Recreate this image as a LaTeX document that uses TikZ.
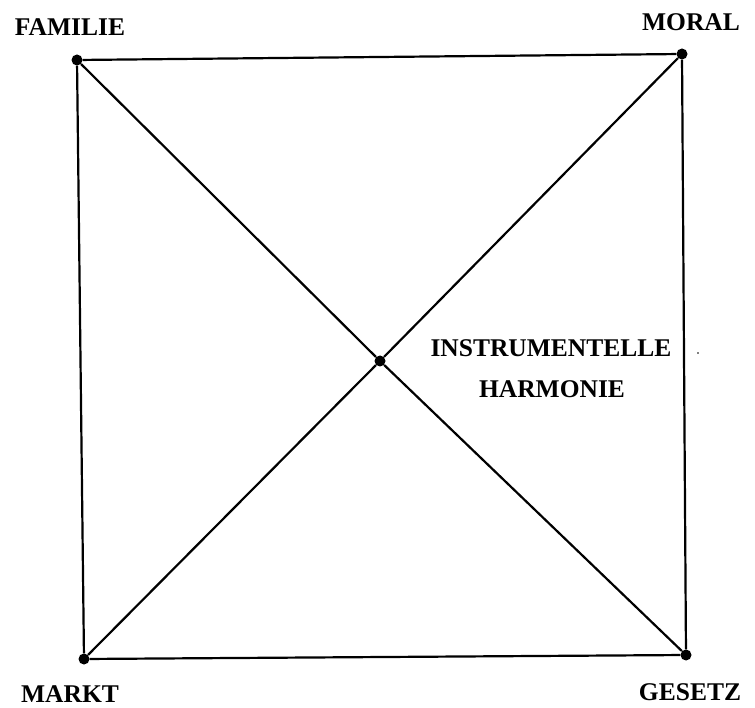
\documentclass[tikz,border=0pt]{standalone}
\usepackage{fontspec}
\setmainfont{Liberation Serif}
\begin{document}
\begin{tikzpicture}[x=1pt,y=-1pt,
  edge/.style={line width=2.2pt},
  pt/.style={circle,fill=black,inner sep=0pt,minimum size=11pt},
  lbl/.style={font=\fontsize{25.5}{30}\selectfont\bfseries,inner sep=0pt}]
\useasboundingbox (0,0) rectangle (755,708);
\node[pt] (F) at (77,60) {};
\node[pt] (M) at (682,54) {};
\node[pt] (K) at (84,659) {};
\node[pt] (G) at (686,655) {};
\node[pt] (C) at (380,361) {};
\draw[edge] (F) -- (M) -- (G) -- (K) -- (F);
\draw[edge] (F) -- (C) -- (G);
\draw[edge] (K) -- (C) -- (M);
\node[lbl] (lf) at (70,27) {FAMILIE};
\node[lbl] (lm) at (691,22) {MORAL};
\node[lbl] (lk) at (70,694) {MARKT};
\node[lbl] (lg) at (690,692) {GESETZ};
\node[lbl] (li) at (551,348) {INSTRUMENTELLE};
\node[lbl] (lh) at (552,389) {HARMONIE};
\fill (698,353) circle (0.9pt);
\end{tikzpicture}
\end{document}
